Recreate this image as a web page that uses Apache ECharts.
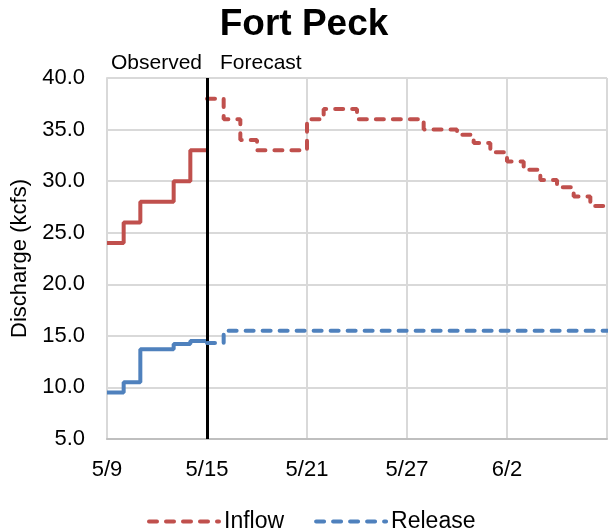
<!DOCTYPE html>
<html>
<head>
<meta charset="utf-8">
<script src="https://cdn.jsdelivr.net/npm/echarts@6/dist/echarts.min.js"></script>
<style>
html,body{margin:0;padding:0;background:#fff;}
#chart{width:608px;height:532px;}
</style>
</head>
<body>
<div id="chart"></div>
<script>
// ---- data ----
var dates = ['5/9','5/10','5/11','5/12','5/13','5/14','5/15','5/16','5/17','5/18','5/19','5/20',
  '5/21','5/22','5/23','5/24','5/25','5/26','5/27','5/28','5/29','5/30','5/31',
  '6/1','6/2','6/3','6/4','6/5','6/6','6/7','6/8'];
var forecastStart = '5/15';
var inflowObserved = [24, 26, 28, 28, 30, 33];
var inflowForecast = [38, 36, 34, 33, 33, 33, 36, 37, 37, 36, 36, 36, 36, 35, 35, 34.5, 33.7,
  32.8, 31.9, 31.1, 30.1, 29.4, 28.5, 27.6];
var releaseObserved = [9.5, 10.5, 13.7, 13.7, 14.2, 14.5];
var releaseForecast = [14.3, 15.5, 15.5, 15.5, 15.5, 15.5, 15.5, 15.5, 15.5, 15.5, 15.5, 15.5,
  15.5, 15.5, 15.5, 15.5, 15.5, 15.5, 15.5, 15.5, 15.5, 15.5, 15.5, 15.5];
var yTicks = [5, 10, 15, 20, 25, 30, 35, 40];

// ---- build step points (value held from its day to the next) ----
function stepPoints(values, startIdx) {
  var pts = values.map(function (v, i) { return [startIdx + i, v]; });
  pts.push([startIdx + values.length, values[values.length - 1]]);
  return pts;
}
var fIdx = dates.indexOf(forecastStart);
var RED = '#C0504D', BLUE = '#4F81BD';
var FONT = 'Liberation Sans, Arial, sans-serif';
var dash = { type: [8, 9], cap: 'round' };

var chart = echarts.init(document.getElementById('chart'), null, { renderer: 'canvas' });
chart.setOption({
  animation: false,
  textStyle: { fontFamily: FONT, color: '#000' },
  title: {
    text: 'Fort Peck', left: 'center', top: 1,
    textStyle: { fontFamily: FONT, fontSize: 37, fontWeight: 'bold', color: '#000' }
  },
  grid: { left: 107, right: 1, top: 78, bottom: 93 },
  legend: {
    data: ['Inflow', 'Release'], bottom: -6, left: 142,
    itemWidth: 70, itemHeight: 14, itemGap: 30,
    itemStyle: { opacity: 0 },
    lineStyle: { width: 4, type: [8, 9], cap: 'round' },
    textStyle: { fontFamily: FONT, fontSize: 23, color: '#000' }
  },
  xAxis: {
    type: 'value', min: 0, max: dates.length - 1, interval: 6,
    axisLine: { show: true, lineStyle: { color: '#BFBFBF', width: 2 } },
    axisTick: { show: false },
    splitLine: { show: true, lineStyle: { color: '#D9D9D9', width: 2 } },
    axisLabel: {
      fontFamily: FONT, fontSize: 22, color: '#000', margin: 20, showMaxLabel: false,
      formatter: function (v) { return dates[v] || ''; }
    }
  },
  yAxis: {
    type: 'value', min: yTicks[0], max: yTicks[yTicks.length - 1], interval: 5,
    name: 'Discharge (kcfs)', nameLocation: 'middle', nameGap: 74,
    nameTextStyle: { fontFamily: FONT, fontSize: 22, color: '#000' },
    axisLine: { show: true, lineStyle: { color: '#D9D9D9', width: 2 } },
    axisTick: { show: false },
    splitLine: { show: true, lineStyle: { color: '#D9D9D9', width: 2 } },
    axisLabel: {
      fontFamily: FONT, fontSize: 22, color: '#000', margin: 22,
      formatter: function (v) { return v.toFixed(1); }
    }
  },
  graphic: [
    { type: 'text', right: 608 - 202, top: 53, style: { text: 'Observed', font: '21px ' + FONT, fill: '#000' } },
    { type: 'text', left: 220, top: 53, style: { text: 'Forecast', font: '21px ' + FONT, fill: '#000' } }
  ],
  series: [
    {
      name: 'Inflow observed', type: 'line', step: 'end', symbol: 'none',
      data: stepPoints(inflowObserved, 0),
      lineStyle: { color: RED, width: 4 }, itemStyle: { color: RED }
    },
    {
      name: 'Inflow', type: 'line', step: 'end', symbol: 'none',
      data: stepPoints(inflowForecast, fIdx),
      lineStyle: Object.assign({ color: RED, width: 4 }, dash), itemStyle: { color: RED }
    },
    {
      name: 'Release observed', type: 'line', step: 'end', symbol: 'none',
      data: stepPoints(releaseObserved, 0),
      lineStyle: { color: BLUE, width: 4 }, itemStyle: { color: BLUE }
    },
    {
      name: 'Release', type: 'line', step: 'end', symbol: 'none', z: 5,
      data: stepPoints(releaseForecast, fIdx),
      lineStyle: Object.assign({ color: BLUE, width: 4 }, dash), itemStyle: { color: BLUE },
      markLine: {
        silent: true, symbol: ['none', 'none'], label: { show: false },
        lineStyle: { color: '#000', width: 3, type: 'solid' },
        data: [{ xAxis: fIdx }]
      }
    }
  ]
});
</script>
</body>
</html>
